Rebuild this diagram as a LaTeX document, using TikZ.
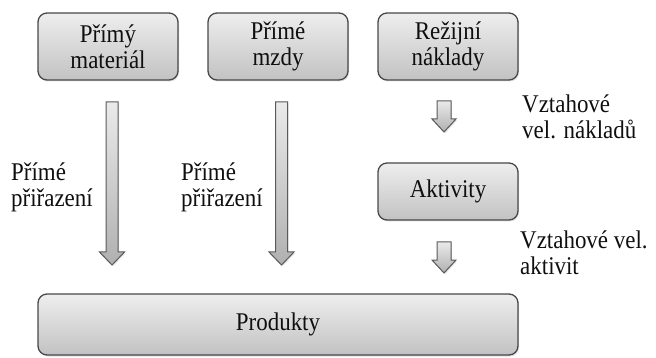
\documentclass[tikz,border=0pt]{standalone}
\usepackage{fontspec}
\setmainfont{Liberation Serif}[FakeStretch=0.9]
\usetikzlibrary{shadows}
\definecolor{boxtop}{RGB}{238,238,238}
\definecolor{boxbot}{RGB}{194,194,194}
\definecolor{boxline}{RGB}{72,72,72}
\definecolor{arrtop}{RGB}{234,234,234}
\definecolor{arrbot}{RGB}{176,176,176}
\definecolor{arrline}{RGB}{90,90,90}
\definecolor{txt}{RGB}{15,15,15}
\tikzset{
  stage/.style={draw=boxline, line width=1.3pt, rounded corners=9pt,
    top color=boxtop, bottom color=boxbot, inner sep=0pt,
    align=center, text=txt, font=\fontsize{25.5}{26}\selectfont,
    drop shadow={shadow xshift=1pt, shadow yshift=-1.5pt, opacity=0.25}},
  blockarrow/.style={draw=arrline, line width=1pt,
    top color=arrtop, bottom color=arrbot,
    drop shadow={shadow xshift=1pt, shadow yshift=-1.5pt, opacity=0.2}},
  note/.style={anchor=north west, align=left, inner sep=0pt, text=txt,
    font=\fontsize{25.5}{26}\selectfont}
}
\begin{document}
\begin{tikzpicture}[x=1pt, y=-1pt]
\useasboundingbox (0,0) rectangle (656,358);

% cost sources
\node[stage, minimum width=140pt, minimum height=67pt] (mat) at (108,46.5) {Přímý\\materiál};
\node[stage, minimum width=140pt, minimum height=67pt] (wage) at (278,46.5) {Přímé\\mzdy};
\node[stage, minimum width=140pt, minimum height=67pt] (over) at (448,46.5) {Režijní\\náklady};
\node[stage, minimum width=140pt, minimum height=57pt] (act) at (448,191.5) {Aktivity};
\node[stage, minimum width=480pt, minimum height=61pt] (prod) at (278,324.5) {Produkty};

% direct assignment arrows
\coordinate (a1) at (112,102);
\coordinate (a2) at (281.5,102);
\foreach \c in {a1,a2}
  \draw[blockarrow] ([xshift=-6pt]\c) -- ([xshift=6pt]\c) -- ([xshift=6pt,yshift=-150pt]\c)
    -- ([xshift=12.5pt,yshift=-150pt]\c) -- ([yshift=-163pt]\c)
    -- ([xshift=-12.5pt,yshift=-150pt]\c) -- ([xshift=-6pt,yshift=-150pt]\c) -- cycle;

% driver arrows
\coordinate (d1) at (444,101);
\coordinate (d2) at (444,242);
\foreach \c in {d1,d2}
  \draw[blockarrow] ([xshift=-7pt]\c) -- ([xshift=7pt]\c) -- ([xshift=7pt,yshift=-18pt]\c)
    -- ([xshift=12pt,yshift=-18pt]\c) -- ([yshift=-31pt]\c)
    -- ([xshift=-12pt,yshift=-18pt]\c) -- ([xshift=-7pt,yshift=-18pt]\c) -- cycle;

% labels
\node[note] (l1) at (11,163) {Přímé\\přiřazení};
\node[note] (l2) at (181,163) {Přímé\\přiřazení};
\node[note] (l3) at (522,95) {Vztahové\\vel. nákladů};
\node[note] (l4) at (520,231) {Vztahové vel.\\aktivit};
\end{tikzpicture}
\end{document}
